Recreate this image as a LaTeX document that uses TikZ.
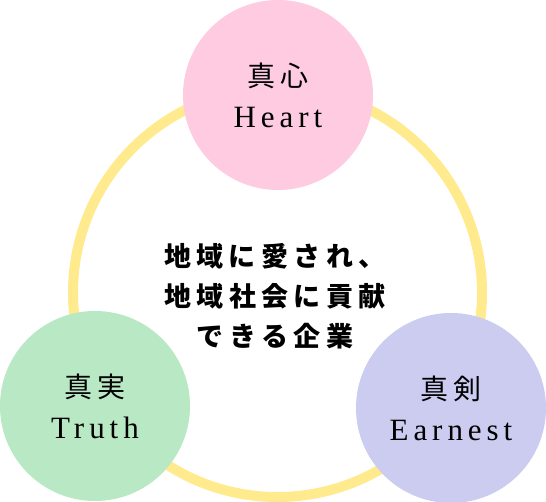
\documentclass[tikz,border=0pt]{standalone}
\usepackage{fontspec}
\setmainfont{Liberation Serif}
\newfontfamily\jpfont[LetterSpace=20]{Noto Sans CJK JP}
\newfontfamily\enfont[LetterSpace=16]{Liberation Serif}
\usetikzlibrary{positioning}
\definecolor{heartcolor}{RGB}{254,203,225}
\definecolor{truthcolor}{RGB}{185,232,196}
\definecolor{earnestcolor}{RGB}{203,204,240}
\definecolor{ringcolor}{RGB}{255,234,142}
\tikzset{
  valuecircle/.style={circle,minimum size=190pt,inner sep=0pt,align=center,
    font=\fontsize{28}{41}\selectfont},
  mottotext/.style={align=center,font=\fontsize{27}{40}\selectfont\jpfont\bfseries},
  ringline/.style={draw=ringcolor,line width=10pt},
}

\begin{document}
\begin{tikzpicture}[x=1pt,y=-1pt]
        \useasboundingbox (0,0) rectangle (546,502);
        \coordinate (ringc) at (277.5,292.5);
        \draw[ringline] (ringc) circle (204.5);
        \node[valuecircle,fill=heartcolor] (heart) at (278,95)
          {{\jpfont 真心}\\{\enfont\fontsize{31}{41}\selectfont Heart}};
        \node[valuecircle,fill=truthcolor] (truth) at (95,406)
          {{\jpfont 真実}\\{\enfont\fontsize{31}{41}\selectfont Truth}};
        \node[valuecircle,fill=earnestcolor] (earnest) at (451,408)
          {{\jpfont 真剣}\\{\enfont\fontsize{31}{41}\selectfont Earnest}};
        \node[mottotext] (motto) at (275,296)
          {地域に愛され、\\地域社会に貢献\\できる企業};
      \end{tikzpicture}
\end{document}
